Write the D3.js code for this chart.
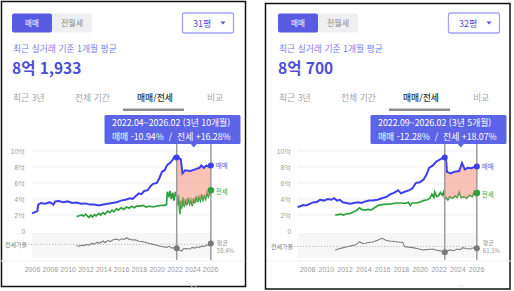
<!DOCTYPE html>
<html lang="ko">
<head>
<meta charset="UTF-8">
<script src="https://d3js.org/d3.v7.min.js"></script>
<style>
  body { margin: 0; background: #fff; }
  svg { display: block; font-family: "Noto Sans CJK KR", "Noto Sans", sans-serif; }
</style>
</head>
<body>
<div class="chart"></div>
<script>
// ---- 31평 (left) : [year, 억]
const saleA = [[2006.0,2.2],[2006.4,2.4],[2006.6,2.5],[2006.7,3.3],[2007.0,3.5],[2007.5,3.4],[2008.0,3.6],
  [2008.4,3.3],[2008.6,3.7],[2009.0,3.75],[2009.5,3.6],[2010.0,3.7],[2010.5,3.5],[2011.0,3.55],[2011.5,3.4],
  [2012.0,3.45],[2012.5,3.3],[2013.0,3.3],[2013.5,3.2],[2014.0,3.3],[2014.5,3.4],[2015.0,3.5],[2015.5,3.6],
  [2016.0,3.8],[2016.5,3.9],[2017.0,4.1],[2017.3,4.0],[2017.6,4.3],[2018.0,4.7],[2018.3,4.6],[2018.6,5.0],
  [2019.0,5.1],[2019.3,5.6],[2019.6,5.9],[2020.0,6.0],[2020.3,6.6],[2020.6,7.4],[2020.9,7.6],[2021.2,8.3],
  [2021.5,8.5],[2021.8,8.9],[2022.0,9.3],[2022.25,9.2],[2022.7,9.0],[2022.9,7.2],[2023.2,7.6],[2023.8,7.5],
  [2024.3,7.7],[2024.8,7.9],[2025.0,8.2],[2025.3,7.9],[2025.6,8.2],[2025.9,8.0],[2026.083,8.19]]
const jeonseA = [[2011.0,1.8],[2011.3,1.9],[2011.6,2.0],[2011.8,1.85],[2012.0,2.1],[2012.2,1.9],[2012.4,1.7],
  [2012.6,2.0],[2012.8,1.75],[2013.0,2.05],[2013.2,1.9],[2013.5,2.2],[2013.7,2.0],[2014.0,2.3],[2014.2,2.1],
  [2014.5,2.5],[2014.7,2.3],[2015.0,2.6],[2015.2,2.4],[2015.5,2.8],[2015.7,2.6],[2016.0,2.9],[2016.3,2.7],
  [2016.6,3.0],[2016.9,2.85],[2017.2,3.1],[2017.5,2.9],[2017.8,3.15],[2018.1,3.1],[2018.5,3.2],[2018.8,3.0],
  [2019.2,3.1],[2019.6,3.0],[2020.0,3.1],[2020.5,3.2],[2020.9,3.2],[2021.1,3.3],[2021.2,4.9],[2021.35,4.2],
  [2021.5,5.0],[2021.65,4.0],[2021.8,4.8],[2021.95,3.8],[2022.1,4.9],[2022.25,4.39],[2022.35,3.2],[2022.45,4.5],
  [2022.6,2.1],[2022.7,3.8],[2022.8,2.8],[2022.95,4.2],[2023.1,3.0],[2023.25,4.0],[2023.4,3.2],[2023.55,4.2],
  [2023.7,3.4],[2023.85,3.9],[2024.0,3.1],[2024.15,4.1],[2024.3,3.5],[2024.45,4.4],[2024.6,3.6],[2024.75,4.3],
  [2024.9,3.8],[2025.05,4.6],[2025.2,3.9],[2025.35,4.4],[2025.5,4.0],[2025.65,4.8],[2025.8,4.3],[2025.95,4.7],
  [2026.083,5.1]]
const ratioA = [[2011.0,54.5],[2011.3,53],[2011.6,56],[2011.9,55],[2012.1,58.4],[2012.4,56],[2012.7,61],
  [2013.0,59],[2013.3,64],[2013.6,62],[2014.0,67.6],[2014.2,63],[2014.5,69],[2014.8,66],[2015.1,71],[2015.5,73],
  [2015.8,70],[2016.1,74],[2016.4,72],[2016.6,76.8],[2016.9,73],[2017.3,70.4],[2017.6,71],[2018.0,67],
  [2018.5,65.7],[2018.9,63],[2019.2,61],[2019.6,58.4],[2020.0,56],[2020.4,53],[2020.7,51.7],[2021.1,50],
  [2021.4,53],[2021.7,48],[2021.9,49],[2022.25,47.7],[2022.5,43],[2022.8,39.7],[2023.0,46],[2023.4,47],
  [2023.7,45],[2024.0,50],[2024.3,48],[2024.5,51.7],[2024.8,50],[2025.1,54],[2025.3,52],[2025.6,56.4],
  [2025.9,55],[2026.083,61]]
const yearsA = [2006, 2008, 2010, 2012, 2014, 2016, 2018, 2020, 2022, 2024, 2026]

// ---- 32평 (right)
const saleB = [[2007.0,3.0],[2007.3,3.1],[2007.6,3.25],[2007.9,3.2],[2008.3,3.4],[2008.7,3.6],[2009.0,3.6],
  [2009.4,3.9],[2009.8,3.8],[2010.2,4.0],[2010.6,3.9],[2010.9,4.1],[2011.2,3.8],[2011.5,3.9],[2011.8,3.6],
  [2012.2,3.5],[2012.6,3.4],[2013.0,3.5],[2013.4,3.6],[2013.8,3.5],[2014.2,3.7],[2014.6,3.8],[2015.0,3.8],
  [2015.5,3.9],[2016.0,4.1],[2016.5,4.3],[2016.9,4.6],[2017.3,4.8],[2017.7,5.1],[2018.0,4.7],[2018.4,4.9],
  [2018.9,5.1],[2019.2,5.3],[2019.6,6.0],[2020.0,6.1],[2020.4,6.4],[2020.7,7.0],[2021.0,7.9],[2021.4,8.2],
  [2021.8,8.7],[2022.1,8.9],[2022.4,9.1],[2022.667,9.2],[2022.8,9.1],[2022.9,7.4],[2023.3,7.2],[2023.7,7.4],
  [2024.2,7.5],[2024.5,8.5],[2024.8,7.7],[2025.1,7.9],[2025.5,7.85],[2025.8,8.0],[2026.083,8.07]]
const jeonseB = [[2011.0,2.0],[2011.3,2.05],[2011.6,2.1],[2011.9,2.0],[2012.2,2.15],[2012.6,2.2],[2013.0,2.4],
  [2013.3,2.6],[2013.6,2.9],[2013.8,2.7],[2014.1,2.6],[2014.5,2.7],[2014.8,2.6],[2015.2,2.9],[2015.6,3.2],
  [2016.0,3.3],[2016.5,3.35],[2017.0,3.4],[2017.5,3.5],[2018.0,3.5],[2018.5,3.45],[2018.8,3.6],[2019.0,3.2],
  [2019.2,3.5],[2019.6,3.5],[2020.0,3.6],[2020.4,3.8],[2020.8,3.9],[2021.1,4.1],[2021.3,4.6],[2021.5,4.2],
  [2021.6,4.9],[2021.8,4.3],[2022.0,4.4],[2022.2,4.8],[2022.4,4.5],[2022.55,4.9],[2022.667,4.02],[2022.8,4.2],
  [2023.0,3.9],[2023.2,4.3],[2023.5,4.1],[2023.8,4.4],[2024.0,4.2],[2024.2,4.9],[2024.4,4.2],[2024.7,4.3],
  [2025.0,4.1],[2025.3,4.5],[2025.6,4.3],[2025.8,4.9],[2025.95,4.5],[2026.083,4.75]]
const ratioB = [[2011.0,50.5],[2011.4,54],[2011.9,57.5],[2012.3,60],[2012.8,63.5],[2013.2,66],[2013.6,75.6],
  [2013.9,70],[2014.2,70.8],[2014.6,73],[2015.1,75.6],[2015.5,80],[2016.0,86],[2016.4,80],[2016.8,77.8],
  [2017.3,76],[2017.9,73.8],[2018.2,74],[2018.4,60.5],[2018.8,59],[2019.3,57.5],[2019.8,54],[2020.4,50.5],
  [2020.9,52],[2021.4,53.5],[2021.9,49],[2022.3,47],[2022.667,43.7],[2022.9,47],[2023.2,50.5],[2023.6,48],
  [2024.0,53],[2024.3,51],[2024.6,57.5],[2024.9,55],[2025.4,53.5],[2025.7,57],[2026.083,55.6]]
const yearsB = [2008, 2010, 2012, 2014, 2016, 2018, 2020, 2022, 2024, 2026]

const priceTicks = [2, 4, 6, 8, 10]
const priceLabels = [0, 2, 4, 6, 8, 10]
const tabs = ['최근 3년', '전체 기간', '매매/전세', '비교']
const tabX = [11, 73, 135, 205]

const panels = [
  { bx: 1.5, by: 1.5, bw: 244, bh: 285, ox: 2, size: '31평', price: '8억 1,933',
    period: '2022.04~2026.02 (3년 10개월)', change: '매매 -10.94%  /  전세 +16.28%', avg: 58.4,
    sale: saleA, jeonse: jeonseA, ratio: ratioA, years: yearsA,
    xDomain: [2006, 2026.1], xRange: [30, 209], from: 2022.25, to: 2026.083, rDomain: [26, 90] },
  { bx: 265.5, by: 3.5, bw: 244.5, bh: 285.5, ox: 268, size: '32평', price: '8억 700',
    period: '2022.09~2026.02 (3년 5개월)', change: '매매 -12.28%  /  전세 +18.07%', avg: 61.1,
    sale: saleB, jeonse: jeonseB, ratio: ratioB, years: yearsB,
    xDomain: [2007, 2026.1], xRange: [29.6, 209], from: 2022.667, to: 2026.083, rDomain: [32, 102] }
]

const svg = d3.select('.chart').append('svg').attr('width', 514).attr('height', 291)

function valueAt(series, t) {
  const i = d3.bisector(d => d[0]).left(series, t)
  if (i <= 0) return series[0][1]
  if (i >= series.length) return series[series.length - 1][1]
  const a = series[i - 1], b = series[i]
  if (b[0] === t) return b[1]
  return a[1] + (b[1] - a[1]) * (t - a[0]) / (b[0] - a[0])
}

panels.forEach(p => {
  svg.append('rect')
    .attr('x', p.bx).attr('y', p.by).attr('width', p.bw).attr('height', p.bh)
    .attr('fill', '#fff').attr('stroke', '#111').attr('stroke-width', 1.5)

  const g = svg.append('g').attr('transform', `translate(${p.ox},0)`)

  // toggle
  g.append('rect').attr('x', 10).attr('y', 13.5).attr('width', 80).attr('height', 19).attr('rx', 2).attr('fill', '#efeff1')
  g.append('rect').attr('x', 10).attr('y', 13.5).attr('width', 40).attr('height', 19).attr('rx', 2).attr('fill', '#585ce2')
  g.append('text').attr('x', 30).attr('y', 26).attr('text-anchor', 'middle').attr('font-size', 7.5).attr('fill', '#fff').text('매매')
  g.append('text').attr('x', 70).attr('y', 26).attr('text-anchor', 'middle').attr('font-size', 8).attr('fill', '#8a8a8a').text('전월세')

  // dropdown
  g.append('rect').attr('x', 180.5).attr('y', 13).attr('width', 51).attr('height', 20).attr('rx', 2)
    .attr('fill', '#fff').attr('stroke', '#a3a5f2').attr('stroke-width', 1.3)
  g.append('text').attr('x', 191).attr('y', 26.5).attr('font-size', 9).attr('fill', '#4f52d6').text(p.size)
  g.append('path').attr('d', 'M218.5,21.5 L223.5,21.5 L221,24.5 Z').attr('fill', '#4f52d6')

  // header texts
  g.append('text').attr('x', 11).attr('y', 52).attr('font-size', 8.8).attr('fill', '#7e82ee').text('최근 실거래 기준 1개월 평균')
  g.append('text').attr('x', 10).attr('y', 73.5).attr('font-size', 15.5).attr('font-weight', 700).attr('fill', '#4a4ed8').text(p.price)

  // tabs
  tabs.forEach((t, i) => {
    g.append('text').attr('x', tabX[i]).attr('y', 100.5).attr('font-size', 8.8)
      .attr('fill', i === 2 ? '#333' : '#a5a5a5').attr('font-weight', i === 2 ? 500 : 400).text(t)
  })
  g.append('rect').attr('x', 121).attr('y', 108.5).attr('width', 61).attr('height', 2.5).attr('fill', '#8c8c8c')

  // scales
  const x = d3.scaleLinear().domain(p.xDomain).range(p.xRange)
  const y = d3.scaleLinear().domain([0, 10]).range([231, 151])
  const yr = d3.scaleLinear().domain(p.rDomain).range([256, 233])
  const x0 = p.xRange[0], x1 = p.xRange[1]

  // grid
  g.selectAll('.grid').data(priceTicks).enter().append('line')
    .attr('x1', x0).attr('x2', x1).attr('y1', d => y(d)).attr('y2', d => y(d))
    .attr('stroke', '#efefef').attr('stroke-width', 1)

  const yAxis = g.append('g').attr('transform', 'translate(23,0)')
    .call(d3.axisLeft(y).tickValues(priceLabels).tickSize(0).tickPadding(0).tickFormat(d => d === 0 ? '0' : d + '억'))
  yAxis.select('.domain').remove()
  yAxis.selectAll('text').attr('font-size', 6.5).attr('fill', '#9a9a9a').attr('font-family', null)

  // ratio band
  g.append('rect').attr('x', x0).attr('y', 233).attr('width', x1 - x0).attr('height', 25).attr('fill', '#f6f6f6')
  g.append('line').attr('x1', 26).attr('x2', x1).attr('y1', yr(p.avg)).attr('y2', yr(p.avg))
    .attr('stroke', '#b5b5b5').attr('stroke-width', 0.9).attr('stroke-dasharray', '1.2,1.8')
  g.append('text').attr('x', 3).attr('y', yr(p.avg) + 2.2).attr('font-size', 6).attr('fill', '#777').text('전세가율')
  g.append('line').attr('x1', -1).attr('x2', p.bw - 1).attr('y1', 261).attr('y2', 261).attr('stroke', '#eeeeee')

  const line = d3.line().x(d => x(d[0])).y(d => y(d[1]))
  const rline = d3.line().x(d => x(d[0])).y(d => yr(d[1]))

  g.append('path').datum(p.ratio).attr('d', rline).attr('fill', 'none').attr('stroke', '#7d7d7d').attr('stroke-width', 1.1)
  g.append('path').datum(p.jeonse).attr('d', line).attr('fill', 'none').attr('stroke', '#30a03e').attr('stroke-width', 1.7)

  // selected range fill between the two lines
  const ts = Array.from(new Set(p.sale.concat(p.jeonse).map(d => d[0]).filter(t => t >= p.from && t <= p.to).concat([p.from, p.to]))).sort((a, b) => a - b)
  const area = d3.area().x(t => x(t)).y0(t => y(valueAt(p.jeonse, t))).y1(t => y(valueAt(p.sale, t)))
  g.append('path').datum(ts).attr('d', area).attr('fill', '#f59a87').attr('opacity', 0.6)

  g.append('path').datum(p.sale).attr('d', line).attr('fill', 'none').attr('stroke', '#3f3fee').attr('stroke-width', 2)

  // range markers
  ;[p.from, p.to].forEach(t => {
    g.append('line').attr('x1', x(t)).attr('x2', x(t)).attr('y1', 144).attr('y2', 260)
      .attr('stroke', '#9c9c9c').attr('stroke-width', 1.5)
  })
  ;[p.from, p.to].forEach(t => {
    g.append('circle').attr('cx', x(t)).attr('cy', y(valueAt(p.sale, t))).attr('r', 3).attr('fill', '#3f3fee')
    g.append('circle').attr('cx', x(t)).attr('cy', yr(valueAt(p.ratio, t))).attr('r', 3).attr('fill', '#7a7a7a')
  })
  g.append('circle').attr('cx', x(p.to)).attr('cy', y(valueAt(p.jeonse, p.to))).attr('r', 3.3).attr('fill', '#30a03e')

  // end labels
  const ex = x(p.to) + 5
  g.append('text').attr('x', ex).attr('y', y(valueAt(p.sale, p.to)) + 2.3).attr('font-size', 6.5).attr('fill', '#5b5ee6').text('매매')
  g.append('text').attr('x', ex).attr('y', y(valueAt(p.jeonse, p.to)) + 4).attr('font-size', 6.5).attr('fill', '#30a03e').text('전세')
  g.append('text').attr('x', ex + 1).attr('y', 245).attr('font-size', 6).attr('fill', '#999').text('평균')
  g.append('text').attr('x', ex + 1).attr('y', 253).attr('font-size', 6).attr('fill', '#999').text(p.avg + '%')

  // x axis
  const xAxis = g.append('g').attr('transform', 'translate(0,267)')
    .call(d3.axisBottom(x).tickValues(p.years).tickSize(0).tickPadding(0).tickFormat(d3.format('d')))
  xAxis.select('.domain').remove()
  xAxis.selectAll('text').attr('font-size', 7).attr('fill', '#9a9a9a').attr('font-family', null)

  // tooltip
  const mid = (x(p.from) + x(p.to)) / 2
  g.append('rect').attr('x', 102.5).attr('y', 115).attr('width', 136).attr('height', 29).attr('rx', 1.5).attr('fill', '#5c64e8')
  g.append('path').attr('d', `M${mid - 3.5},143.5 L${mid + 3.5},143.5 L${mid},147.5 Z`).attr('fill', '#5c64e8')
  g.append('text').attr('x', 110).attr('y', 125.5).attr('font-size', 8.8).attr('fill', '#fff').text(p.period)
  g.append('text').attr('x', 110).attr('y', 140).attr('font-size', 8.8).attr('fill', '#fff').attr('xml:space', 'preserve').text(p.change)

  // small caret at bottom
  g.append('path').attr('d', `M${mid - 3},287 L${mid},285 L${mid + 3},287`).attr('fill', 'none').attr('stroke', '#ddd').attr('stroke-width', 0.8)
})
</script>
</body>
</html>
